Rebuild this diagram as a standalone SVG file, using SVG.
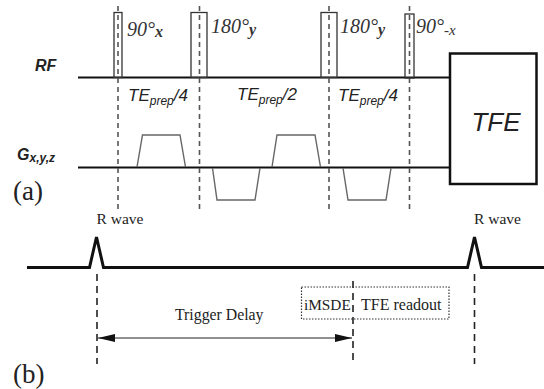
<svg xmlns="http://www.w3.org/2000/svg" width="544" height="389" viewBox="0 0 544 389">
<style>
.ax{fill:none;stroke:#111;stroke-width:2}
.pulse{fill:none;stroke:#333;stroke-width:1.3}
.grad{fill:none;stroke:#666;stroke-width:1.4}
.guide{fill:none;stroke:#555;stroke-width:1.6;stroke-dasharray:5 4}
.guideb{fill:none;stroke:#222;stroke-width:1.6;stroke-dasharray:7 5}
.ecg{fill:none;stroke:#111;stroke-width:3}
.it{font-family:"Liberation Sans",Arial,sans-serif;font-style:italic;fill:#222}
.ser{font-family:"Liberation Serif","Times New Roman",serif;fill:#222}
.seri{font-family:"Liberation Serif","Times New Roman",serif;font-style:italic;fill:#333}
</style>
<defs>
<marker id="arr" markerUnits="userSpaceOnUse" markerWidth="18" markerHeight="8" refX="17" refY="4" orient="auto-start-reverse"><path d="M0 0L17 4L0 8Z" fill="#111"/></marker>
</defs>
<g id="connectors">
<path class="ax" d="M78 77.5H450M78 167.5H450"/>
<path class="guide" d="M118 6V210M199.500 6V210M329 6V210M409.500 6V210"/>
<path class="ecg" d="M27 267.500H89.500L96.500 237L103.500 267.500H467.500L474.500 237L481.500 267.500H544"/>
<path class="guideb" d="M97 274V364M353 281V361M474.500 274V364"/>
<path d="M98 338H352" fill="none" stroke="#222" stroke-width="1.2" marker-start="url(#arr)" marker-end="url(#arr)"/>
</g>
<g id="pulse-90x"><rect class="pulse" x="114" y="12.500" width="8" height="65"/><text class="seri" x="127" y="36" font-size="20">90°<tspan font-size="16" font-weight="bold" dy="1">x</tspan></text></g>
<g id="pulse-180y-1"><rect class="pulse" x="191" y="12.500" width="16" height="65"/><text class="seri" x="211" y="33" font-size="20">180°<tspan font-size="16" font-weight="bold" dy="2">y</tspan></text></g>
<g id="pulse-180y-2"><rect class="pulse" x="321" y="12.500" width="16" height="65"/><text class="seri" x="340" y="33" font-size="20">180°<tspan font-size="16" font-weight="bold" dy="2">y</tspan></text></g>
<g id="pulse-90-x"><rect class="pulse" x="405" y="14" width="9" height="64"/><text class="seri" x="416" y="33" font-size="20">90°<tspan font-size="15" dy="2">-x</tspan></text></g>
<g id="tfe"><rect x="450" y="53.500" width="86.500" height="130.500" fill="#fff" stroke="#111" stroke-width="2.500"/><text class="it" x="496" y="131" font-size="26" text-anchor="middle" fill="#111">TFE</text></g>
<g id="label-rf"><text class="it" x="35" y="71" font-size="16" font-weight="bold">RF</text></g>
<g id="label-g"><text class="it" x="17" y="160" font-size="16" font-weight="bold">G<tspan font-size="12" dy="2">x,y,z</tspan></text></g>
<g id="te1"><text class="it" x="128" y="101" font-size="17">TE<tspan font-size="12" dy="4">prep</tspan><tspan dy="-4">/4</tspan></text></g>
<g id="te2"><text class="it" x="237" y="100" font-size="17">TE<tspan font-size="12" dy="4">prep</tspan><tspan dy="-4">/2</tspan></text></g>
<g id="te3"><text class="it" x="338" y="101" font-size="17">TE<tspan font-size="12" dy="4">prep</tspan><tspan dy="-4">/4</tspan></text></g>
<g id="grad-1"><path class="grad" d="M137 167L142.500 135H180L185.500 167"/></g>
<g id="grad-2"><path class="grad" d="M212.500 168L217 200H255L260 168"/></g>
<g id="grad-3"><path class="grad" d="M272 167L277 135H315L320.500 167"/></g>
<g id="grad-4"><path class="grad" d="M343 168L348 200H386L391 168"/></g>
<g id="label-a"><text class="ser" x="13" y="200" font-size="27">(a)</text></g>
<g id="label-b"><text class="ser" x="13" y="383" font-size="27">(b)</text></g>
<g id="rwave-1"><text class="ser" x="96.500" y="224" font-size="15.500">R wave</text></g>
<g id="rwave-2"><text class="ser" x="474" y="224" font-size="15.500">R wave</text></g>
<g id="trigger"><text class="ser" x="175" y="320" font-size="15.800">Trigger Delay</text></g>
<g id="readout"><rect x="301.500" y="287" width="147.500" height="32" fill="none" stroke="#333" stroke-width="1.200" stroke-dasharray="1.500 1.500"/><text class="ser" x="304" y="310" font-size="15.300">iMSDE</text><text class="ser" x="361" y="310" font-size="16">TFE readout</text></g>
</svg>
